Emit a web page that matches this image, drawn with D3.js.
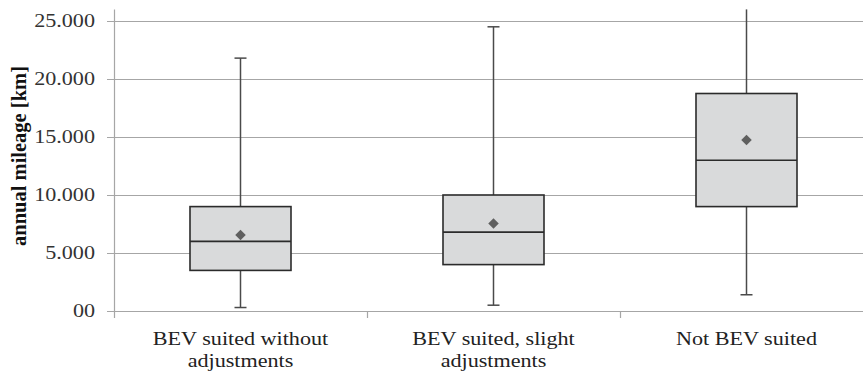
<!DOCTYPE html>
<html><head><meta charset="utf-8">
<script src="https://cdn.jsdelivr.net/npm/d3@7"></script>
<style>body{margin:0;background:#fff;}svg{display:block;}</style>
</head><body>
<svg id="c" width="863" height="374"></svg>
<script>
const categories = [["BEV suited without","adjustments"],["BEV suited, slight","adjustments"],["Not BEV suited"]];
const whiskerLow = [300, 500, 1400];
const q1 = [3500, 4000, 9000];
const median = [6000, 6800, 13000];
const q3 = [9000, 10000, 18750];
const whiskerHigh = [21800, 24500, 26000];
const mean = [6550, 7550, 14750];
const yTicks = [0, 5000, 10000, 15000, 20000, 25000];
const yTickLabels = ["00", "5.000", "10.000", "15.000", "20.000", "25.000"];

(function () {
const svg = d3.select("#c");
const pLeft = 114, pRight = 873, pTop = 9.4, pBottom = 311;
const x = d3.scaleBand().domain(d3.range(categories.length)).range([pLeft, pRight]);
const y = d3.scaleLinear().domain([0, 26000]).range([pBottom, pTop]);
const font = "'Liberation Serif','Times New Roman',serif";
const sx = 1.23;

svg.append("g").selectAll("line").data(yTicks).join("line")
  .attr("x1", pLeft - 7).attr("x2", pRight)
  .attr("y1", d => Math.round(y(d)) + 0.5).attr("y2", d => Math.round(y(d)) + 0.5)
  .attr("stroke", "#a6a6a6").attr("stroke-width", 1.2);
svg.append("line").attr("x1", pLeft + 0.5).attr("x2", pLeft + 0.5).attr("y1", pTop).attr("y2", pBottom + 7)
  .attr("stroke", "#a6a6a6").attr("stroke-width", 1.2);
svg.append("g").selectAll("line").data(d3.range(1, categories.length)).join("line")
  .attr("x1", d => x(d) + 0.5).attr("x2", d => x(d) + 0.5)
  .attr("y1", pBottom).attr("y2", pBottom + 7)
  .attr("stroke", "#a6a6a6").attr("stroke-width", 1.2);

svg.append("g").selectAll("text").data(yTicks).join("text")
  .attr("transform", d => `translate(${pLeft - 19},${y(d) + 6}) scale(${sx},1)`)
  .attr("text-anchor", "end").attr("font-family", font).attr("font-size", 18).attr("fill", "#333")
  .text((d, i) => yTickLabels[i]);

svg.append("text")
  .attr("transform", `translate(26,156) rotate(-90)`)
  .attr("text-anchor", "middle").attr("font-family", font).attr("font-size", 20.5)
  .attr("font-weight", "bold").attr("fill", "#111")
  .text("annual mileage [km]");

const cl = svg.append("g").selectAll("text").data(categories).join("text")
  .attr("transform", (d, i) => `translate(${x(i) + x.bandwidth() / 2},345) scale(${sx},1)`)
  .attr("text-anchor", "middle").attr("font-family", font).attr("font-size", 18).attr("fill", "#222");
cl.selectAll("tspan").data(d => d).join("tspan")
  .attr("x", 0).attr("dy", (d, i) => i === 0 ? 0 : 22).text(d => d);

const bw = 101;
const idx = d3.range(categories.length);
const g = svg.append("g").selectAll("g").data(idx).join("g")
  .attr("transform", i => `translate(${x(i) + x.bandwidth() / 2},0)`);
const clipY = v => Math.max(y(v), pTop);
g.append("line").attr("x1", 0).attr("x2", 0)
  .attr("y1", i => clipY(whiskerHigh[i])).attr("y2", i => y(q3[i]))
  .attr("stroke", "#4a4a4a").attr("stroke-width", 1.5);
g.append("line").attr("x1", 0).attr("x2", 0)
  .attr("y1", i => y(q1[i])).attr("y2", i => y(whiskerLow[i]))
  .attr("stroke", "#4a4a4a").attr("stroke-width", 1.5);
g.filter(i => y(whiskerHigh[i]) > pTop + 1).append("line")
  .attr("x1", -6).attr("x2", 6)
  .attr("y1", i => y(whiskerHigh[i])).attr("y2", i => y(whiskerHigh[i]))
  .attr("stroke", "#4a4a4a").attr("stroke-width", 1.5);
g.append("line").attr("x1", -6).attr("x2", 6)
  .attr("y1", i => y(whiskerLow[i])).attr("y2", i => y(whiskerLow[i]))
  .attr("stroke", "#4a4a4a").attr("stroke-width", 1.5);
g.append("rect").attr("x", -bw / 2).attr("width", bw)
  .attr("y", i => y(q3[i])).attr("height", i => y(q1[i]) - y(q3[i]))
  .attr("fill", "#d9dadb").attr("stroke", "#2b2b2b").attr("stroke-width", 1.6);
g.append("line").attr("x1", -bw / 2).attr("x2", bw / 2)
  .attr("y1", i => y(median[i])).attr("y2", i => y(median[i]))
  .attr("stroke", "#2b2b2b").attr("stroke-width", 1.6);
g.append("path").attr("d", d3.symbol(d3.symbolDiamond2, 70)())
  .attr("transform", i => `translate(0,${y(mean[i])})`)
  .attr("fill", "#5f5f5f");
})();
</script>
</body></html>
